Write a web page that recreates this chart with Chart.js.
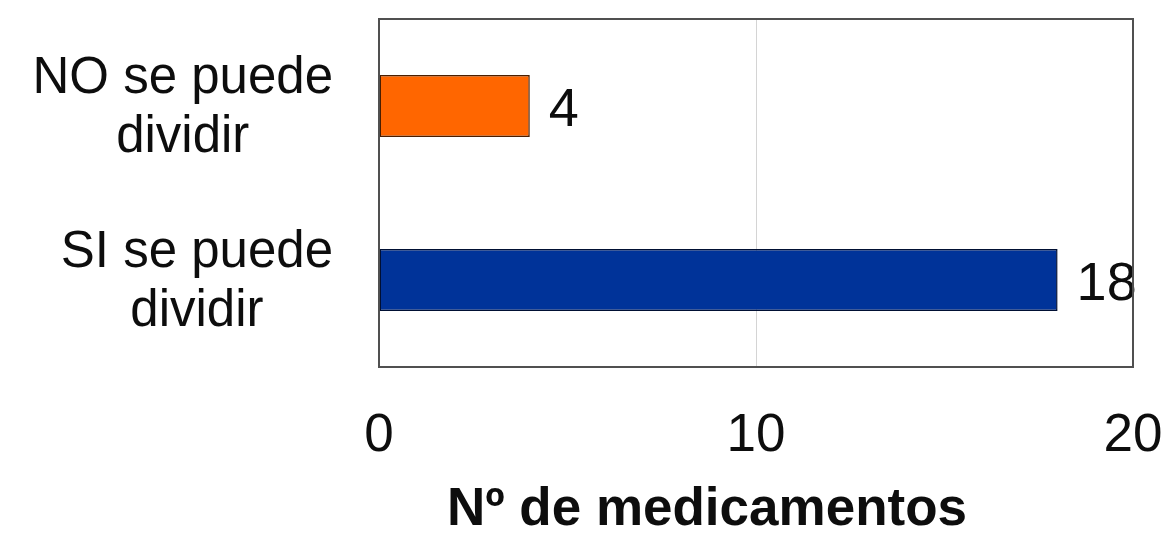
<!DOCTYPE html>
<html>
<head>
<meta charset="utf-8">
<script src="https://cdn.jsdelivr.net/npm/chart.js@4"></script>
<style>
  html, body { margin: 0; padding: 0; background: #ffffff; }
  #wrap { width: 1166px; height: 533px; }
</style>
</head>
<body>
<div id="wrap"><canvas id="chart" width="1166" height="533"></canvas></div>
<script>
// Categories (each split into its two printed lines) and the counted medicines
const categories = [['NO se puede', 'dividir'], ['SI se puede', 'dividir']];
const counts = [4, 18];
const barColors = ['#ff6600', '#003399'];
const barBorders = ['#4a1e00', '#000f33'];
const xTickStep = 10;
const xMin = 0;
const xMax = 20;
const xTitle = 'Nº de medicamentos';

const FONT = '"Liberation Sans", Arial, Helvetica, sans-serif';

// Two-line category labels: each block right-aligned, its lines centred
const categoryLabels = {
  id: 'categoryLabels',
  afterDraw(chart) {
    const { ctx } = chart;
    const y = chart.scales.y;
    ctx.save();
    ctx.font = '51px ' + FONT;
    ctx.fillStyle = '#0d0d0d';
    ctx.textAlign = 'center';
    ctx.textBaseline = 'alphabetic';
    categories.forEach((lines, i) => {
      const c = y.getPixelForValue(i);
      const w = Math.max(...lines.map(l => ctx.measureText(l).width));
      const cx = y.right - 46 - w / 2;
      ctx.fillText(lines[0], cx, c - 13);
      ctx.fillText(lines[1], cx, c + 46);
    });
    ctx.restore();
  }
};

// Value printed to the right of each bar
const valueLabels = {
  id: 'valueLabels',
  afterDatasetsDraw(chart) {
    const { ctx } = chart;
    const meta = chart.getDatasetMeta(0);
    ctx.save();
    ctx.font = '54px ' + FONT;
    ctx.fillStyle = '#0d0d0d';
    ctx.textAlign = 'left';
    ctx.textBaseline = 'alphabetic';
    meta.data.forEach((bar, i) => {
      ctx.fillText(String(counts[i]), bar.x + 19, bar.y + 20);
    });
    ctx.restore();
  }
};

// Plot frame and the x-axis title
const frameAndTitle = {
  id: 'frameAndTitle',
  afterDatasetsDraw(chart) {
    const { ctx, chartArea: a } = chart;
    ctx.save();
    ctx.strokeStyle = '#505050';
    ctx.lineWidth = 2;
    ctx.strokeRect(a.left, a.top, a.right - a.left, a.bottom - a.top);
    ctx.restore();
  },
  afterDraw(chart) {
    const { ctx } = chart;
    const x = chart.scales.x;
    ctx.save();
    ctx.font = 'bold 53px ' + FONT;
    ctx.fillStyle = '#0d0d0d';
    ctx.textAlign = 'center';
    ctx.textBaseline = 'alphabetic';
    ctx.fillText(xTitle, x.getPixelForValue(8.7), 525);
    ctx.restore();
  }
};

new Chart(document.getElementById('chart'), {
  type: 'bar',
  data: {
    labels: categories,
    datasets: [{
      data: counts,
      backgroundColor: barColors,
      borderColor: barBorders,
      borderWidth: 1.5,
      borderSkipped: false,
      categoryPercentage: 1,
      barPercentage: 0.356
    }]
  },
  options: {
    indexAxis: 'y',
    responsive: false,
    animation: false,
    devicePixelRatio: 1,
    layout: { padding: { top: 19, right: 33, left: 0, bottom: 0 } },
    plugins: {
      legend: { display: false },
      tooltip: { enabled: false },
      title: { display: false }
    },
    scales: {
      x: {
        min: xMin,
        max: xMax,
        border: { display: false },
        grid: { color: '#d4d4d4', lineWidth: 1, drawTicks: false },
        ticks: {
          stepSize: xTickStep,
          padding: 38,
          color: '#0d0d0d',
          font: { family: FONT, size: 53 },
          maxRotation: 0
        },
        afterFit(scale) {
          scale.height = 166;
          scale.paddingLeft = 0;
          scale.paddingRight = 0;
        }
      },
      y: {
        border: { display: false },
        grid: { display: false, drawTicks: false },
        ticks: { display: false },
        afterFit(scale) { scale.width = 379; }
      }
    }
  },
  plugins: [categoryLabels, valueLabels, frameAndTitle]
});
</script>
</body>
</html>
